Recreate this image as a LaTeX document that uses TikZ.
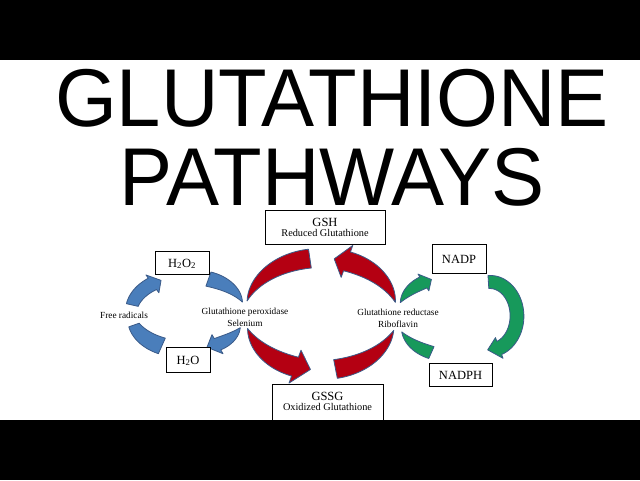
\documentclass[tikz,border=0pt]{standalone}
\usepackage{fontspec}
\setmainfont{Liberation Serif}
\newfontfamily\titlefont{Liberation Sans}
\definecolor{bluef}{HTML}{4A7EBB}
\definecolor{redf}{HTML}{B40012}
\definecolor{greenf}{HTML}{17995B}
\definecolor{edgec}{HTML}{3A5A88}
\pgfqkeys{/carc}{cx/.store in=\crx, cy/.store in=\cry, a/.store in=\cra, b/.store in=\crb,
  t1/.store in=\crs, t2/.store in=\cre, w1/.store in=\crw, w2/.store in=\crW,
  hw/.store in=\crh, hl/.store in=\crl}
% width along the arc, easing out from w1 to w2
\def\sfun{((\x-(\crs))/((\cre)-(\crs)))}
\def\wfun{(0.5*(\crw+(\crW-\crw)*\sfun*(2-\sfun)))}
\newcommand\carrow[2]{%
  \pgfqkeys{/carc}{w1=0,w2=0,hw=0,hl=0,#2}%
  \ifdim \crl pt=0pt
    \filldraw[#1] plot[domain=\crs:\cre,samples=40,variable=\x]
      ({\crx+(\cra+\wfun)*cos(\x)},{\cry+(\crb+\wfun)*sin(\x)})
      -- plot[domain=\cre:\crs,samples=40,variable=\x]
      ({\crx+(\cra-\wfun)*cos(\x)},{\cry+(\crb-\wfun)*sin(\x)}) -- cycle;
  \else
    \filldraw[#1] plot[domain=\crs:\cre,samples=40,variable=\x]
      ({\crx+(\cra+\wfun)*cos(\x)},{\cry+(\crb+\wfun)*sin(\x)})
      -- ({\crx+(\cra+\crh)*cos(\cre)},{\cry+(\crb+\crh)*sin(\cre)})
      -- ({\crx+\cra*cos(\cre+(\crl))},{\cry+\crb*sin(\cre+(\crl))})
      -- ({\crx+(\cra-\crh)*cos(\cre)},{\cry+(\crb-\crh)*sin(\cre)})
      -- plot[domain=\cre:\crs,samples=40,variable=\x]
      ({\crx+(\cra-\wfun)*cos(\x)},{\cry+(\crb-\wfun)*sin(\x)}) -- cycle;
  \fi}
\tikzset{
  box/.style={draw=black, line width=0.9pt, fill=white, inner sep=0pt},
  big/.style={font=\fontsize{12.5}{14}\selectfont, inner sep=0pt},
  sub/.style={font=\fontsize{10.3}{12}\selectfont, inner sep=0pt},
  lbl/.style={font=\fontsize{9.3}{11}\selectfont, inner sep=0pt},
  ttl/.style={font=\titlefont\fontsize{82}{82}\selectfont, inner sep=0pt, xscale=0.97, text depth=0pt},
  bluea/.style={fill=bluef, draw=edgec, line width=0.8pt, line join=round},
  reda/.style={fill=redf, draw=edgec, line width=0.8pt, line join=round},
  greena/.style={fill=greenf, draw=edgec, line width=0.8pt, line join=round}
}
\begin{document}
\begin{tikzpicture}[x=1pt,y=-1pt]
\useasboundingbox (0,0) rectangle (640,480);
\fill[white] (0,0) rectangle (640,480);
% title
\node[ttl, anchor=base] (t1) at (332,126) {GLUTATHIONE};
\node[ttl, anchor=base] (t2) at (332,205) {PATHWAYS};
% blue arrows
\carrow{bluea}{cx=183,cy=313,a=52,b=36,t1=192.8,t2=234,w1=12,w2=14,hw=11,hl=11}
\carrow{bluea}{cx=183,cy=313,a=52,b=36,t1=160.5,t2=114,w1=11,w2=17}
\carrow{bluea}{cx=190,cy=313,a=55,b=36,t1=342.4,t2=289.6,w1=0,w2=15}
\carrow{bluea}{cx=190,cy=313,a=55,b=36,t1=24,t2=60,w1=0,w2=13,hw=11,hl=12}
% red arrows
\carrow{reda}{cx=321,cy=314,a=76,b=56,t1=193.5,t2=261.6,w1=0,w2=19}
\carrow{reda}{cx=321,cy=314,a=76,b=56,t1=165,t2=110,w1=0,w2=20,hw=17.5,hl=-12}
\carrow{reda}{cx=321,cy=314,a=76,b=56,t1=348,t2=290,w1=0,w2=20,hw=17,hl=-10}
\carrow{reda}{cx=321,cy=314,a=76,b=56,t1=17,t2=79,w1=0,w2=19}
% green arrows
\carrow{greena}{cx=455,cy=316,a=58,b=40,t1=199.6,t2=237,w1=0,w2=13,hw=10,hl=9}
\carrow{greena}{cx=455,cy=316,a=58,b=40,t1=156.6,t2=114,w1=0,w2=13}
\carrow{greena}{cx=490,cy=316,a=27,b=34,t1=-93.4,t2=70,w1=13,w2=14,hw=11,hl=25}
% boxes
\node[box, minimum width=120pt, minimum height=34pt] (gsh) at (325,227) {};
\node[big, anchor=base] (gsht) at (325,226.5) {GSH};
\node[sub, anchor=base] (gshs) at (325,236.5) {Reduced Glutathione};
\node[box, minimum width=111pt, minimum height=50pt] (gssg) at (327.5,409) {};
\node[big, anchor=base] (gssgt) at (327.5,400) {GSSG};
\node[sub, anchor=base] (gssgs) at (327.5,410.5) {Oxidized Glutathione};
\node[box, minimum width=54pt, minimum height=23pt] (h2o2) at (182,262.5) {};
\node[big, anchor=base] (h2o2t) at (182,267) {H\textsubscript{2}O\textsubscript{2}};
\node[box, minimum width=44pt, minimum height=25pt] (h2o) at (188,359.5) {};
\node[big, anchor=base] (h2ot) at (188,364) {H\textsubscript{2}O};
\node[box, minimum width=54pt, minimum height=29pt] (nadp) at (459,258.5) {};
\node[big, anchor=base] (nadpt) at (459,263) {NADP};
\node[box, minimum width=63pt, minimum height=23pt] (nadph) at (460.5,374.5) {};
\node[big, anchor=base] (nadpht) at (460.5,379) {NADPH};
% labels
\node[lbl, anchor=base] (fr) at (124,318) {Free radicals};
\node[lbl, anchor=base] (gp) at (245,314.7) {Glutathione peroxidase};
\node[lbl, anchor=base] (se) at (245,326.5) {Selenium};
\node[lbl, anchor=base] (gr) at (398,315.7) {Glutathione reductase};
\node[lbl, anchor=base] (rb) at (398,327) {Riboflavin};
% bars
\fill[black] (0,0) rectangle (640,60);
\fill[black] (0,420) rectangle (640,480);
\end{tikzpicture}
\end{document}
